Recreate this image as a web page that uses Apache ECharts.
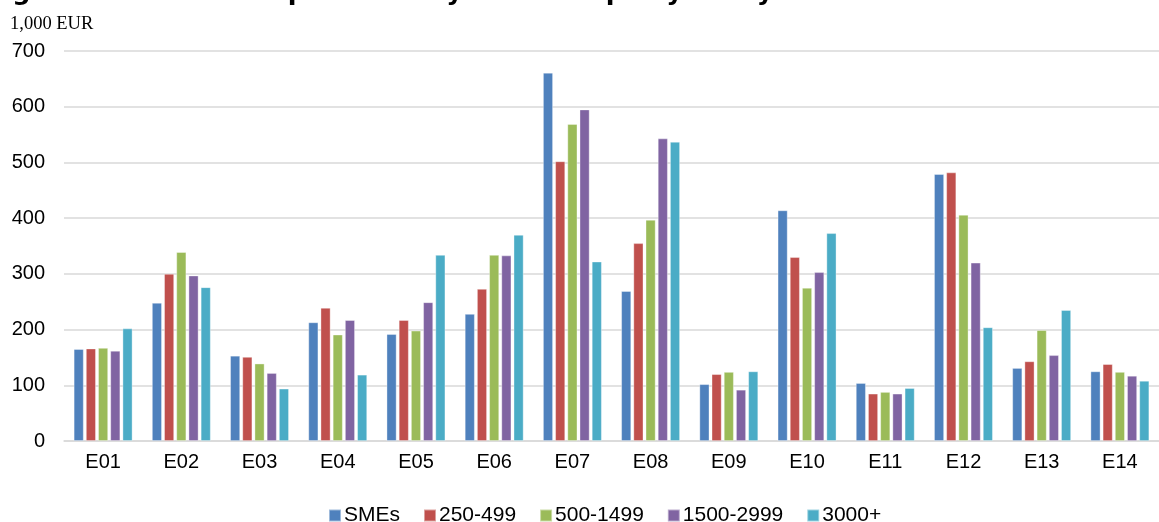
<!DOCTYPE html>
<html>
<head>
<meta charset="utf-8">
<script src="https://cdn.jsdelivr.net/npm/echarts@6/dist/echarts.min.js"></script>
<style>
  html, body { margin: 0; padding: 0; background: #ffffff; }
  #chart { width: 1159px; height: 522px; }
</style>
</head>
<body>
<div id="chart"></div>
<script>
// Ecosystems on the category axis
const categories = ['E01', 'E02', 'E03', 'E04', 'E05', 'E06', 'E07', 'E08', 'E09', 'E10', 'E11', 'E12', 'E13', 'E14'];

// Labour productivity (1,000 EUR) by firm size class
const smes      = [165, 248, 153, 213, 192, 228, 661, 269, 102, 414, 104, 479, 131, 125];
const s250_499  = [166, 300, 151, 239, 217, 273, 502, 355, 120, 330, 85, 482, 143, 138];
const s500_1499 = [167, 339, 139, 191, 198, 334, 569, 397, 124, 275, 88, 406, 199, 124];
const s1500_2999 = [162, 297, 122, 217, 249, 333, 595, 543, 92, 303, 85, 320, 154, 117];
const s3000plus = [202, 276, 94, 119, 334, 370, 322, 537, 125, 373, 95, 204, 235, 108];

const seriesNames = ['SMEs', '250-499', '500-1499', '1500-2999', '3000+'];
const seriesData = [smes, s250_499, s500_1499, s1500_2999, s3000plus];
const colors = ['#4F81BD', '#C0504D', '#9BBB59', '#8064A2', '#4BACC6'];

const yTicks = { min: 0, max: 700, interval: 100 };

const labelFont = '"Liberation Sans", Arial';

const chart = echarts.init(document.getElementById('chart'), null, { renderer: 'canvas' });

chart.setOption({
  animation: false,
  color: colors,
  grid: { left: 64, right: -15, top: 51, bottom: 81, containLabel: false },
  graphic: [
    {
      type: 'text',
      left: -14,
      top: -20,
      style: {
        text: 'Figure 4.2.4: Labour productivity of mid-caps by ecosystem',
        font: 'bold 25.5px "DejaVu Sans"',
        fill: '#000000'
      }
    },
    {
      type: 'text',
      left: 10,
      top: 15,
      style: {
        text: '1,000 EUR',
        font: '18.5px "Liberation Serif"',
        fill: '#000000'
      }
    }
  ],
  legend: {
    data: seriesNames,
    top: 500,
    left: 323,
    itemWidth: 12,
    itemHeight: 12,
    itemGap: 23,
    icon: 'rect',
    textStyle: { fontFamily: labelFont, fontSize: 21, color: '#000000', padding: [0, 0, 0, -2] }
  },
  xAxis: {
    type: 'category',
    data: categories,
    axisTick: { show: false },
    axisLine: { lineStyle: { color: '#d9d9d9', width: 1.5 } },
    axisLabel: { fontFamily: labelFont, fontSize: 20, color: '#000000', margin: 11 }
  },
  yAxis: {
    type: 'value',
    min: yTicks.min,
    max: yTicks.max,
    interval: yTicks.interval,
    axisLine: { show: false },
    axisTick: { show: false },
    splitLine: { lineStyle: { color: '#d9d9d9', width: 1.5 } },
    axisLabel: { fontFamily: labelFont, fontSize: 20, color: '#000000', margin: 19 }
  },
  series: seriesNames.map((name, i) => ({
    name: name,
    type: 'bar',
    data: seriesData[i],
    barWidth: 10,
    barGap: '22%',
    itemStyle: { color: colors[i], borderColor: 'rgba(255,255,255,0.45)', borderWidth: 0.8 }
  }))
});
</script>
</body>
</html>
